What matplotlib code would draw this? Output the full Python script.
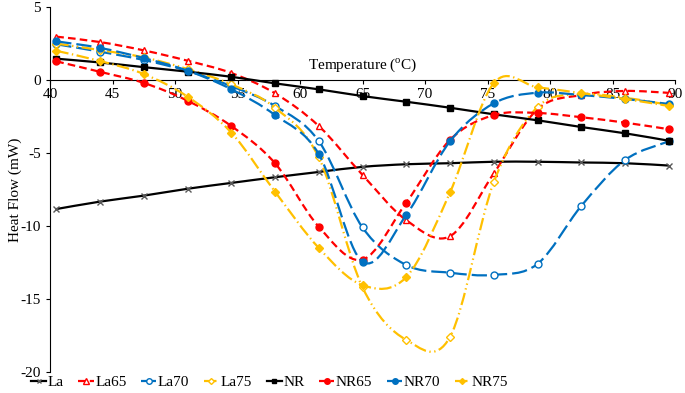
import matplotlib
matplotlib.use("Agg")
import matplotlib.pyplot as plt
from matplotlib.path import Path
from matplotlib.patches import PathPatch
from matplotlib.lines import Line2D

# === Общие настройки шрифтов ===
plt.rcParams['font.family'] = ['Liberation Serif', 'DejaVu Serif']
plt.rcParams['mathtext.fontset'] = 'custom'
plt.rcParams['mathtext.rm'] = 'Liberation Serif'
plt.rcParams['lines.scale_dashes'] = False

# === Данные ===
temp = [40.5, 44, 47.5, 51, 54.5, 58, 61.5, 65, 68.5, 72, 75.5, 79, 82.5, 86, 89.5]

la   = [-8.84, -8.33, -7.92, -7.45, -7.05, -6.66, -6.3, -5.95, -5.77, -5.7, -5.6, -5.6, -5.65, -5.7, -5.86]
la65 = [2.97, 2.6, 2.03, 1.32, 0.48, -0.91, -3.15, -6.5, -9.6, -10.7, -6.4, -2.0, -1.03, -0.75, -0.88]
la70 = [2.45, 1.94, 1.37, 0.62, -0.42, -1.78, -4.18, -10.1, -12.67, -13.2, -13.35, -12.6, -8.63, -5.48, -4.2]
la75 = [2.5, 2.05, 1.55, 0.75, -0.3, -1.9, -5.3, -14.2, -17.8, -17.6, -7.0, -1.85, -0.98, -1.22, -1.7]
nr   = [1.46, 1.2, 0.88, 0.57, 0.22, -0.23, -0.64, -1.1, -1.49, -1.9, -2.35, -2.76, -3.22, -3.65, -4.16]
nr65 = [1.28, 0.56, -0.2, -1.42, -3.15, -5.7, -10.05, -12.3, -8.4, -4.1, -2.4, -2.26, -2.55, -2.92, -3.37]
nr70 = [2.65, 2.2, 1.5, 0.64, -0.63, -2.4, -5.07, -12.45, -9.25, -4.2, -1.6, -0.87, -1.03, -1.3, -1.64]
nr75 = [2.0, 1.3, 0.41, -1.14, -3.6, -7.65, -11.5, -14.05, -13.5, -7.7, -0.22, -0.5, -0.9, -1.3, -1.78]

labels = ['La', 'La65', 'La70', 'La75', 'NR', 'NR65', 'NR70', 'NR75']
series = [la, la65, la70, la75, nr, nr65, nr70, nr75]

x_ticks = [40, 45, 50, 55, 60, 65, 70, 75, 80, 85, 90]
y_ticks = [5, 0, -5, -10, -15, -20]
y_tick_labels = ['5', '0', '-5', '-10', '-15', '-20']

# === Стили линий ===
RED, BLUE, GOLD = '#FF0000', '#0070C0', '#FFC000'
dash_red = (0, (5.5, 3))
dash_blue = (0, (11, 3.6))
dash_dd = (0, (9, 2.5, 1, 2.5, 1, 2.5))   # длинный штрих - точка - точка
dash_d = (0, (9, 2.5, 1, 2.5))            # длинный штрих - точка

styles = [
    dict(color='black', ls='-',        marker='x', mfc='none',  mec='#595959', ms=4.5),
    dict(color=RED,     ls=dash_red,   marker='^', mfc='white', mec=RED,       ms=5),
    dict(color=BLUE,    ls=dash_blue,  marker='o', mfc='white', mec=BLUE,      ms=5),
    dict(color=GOLD,    ls=dash_dd,    marker='D', mfc='white', mec=GOLD,      ms=4),
    dict(color='black', ls='-',        marker='s', mfc='black', mec='black',   ms=4.5),
    dict(color=RED,     ls=dash_red,   marker='o', mfc=RED,     mec=RED,       ms=5),
    dict(color=BLUE,    ls=dash_blue,  marker='o', mfc=BLUE,    mec=BLUE,      ms=5),
    dict(color=GOLD,    ls=dash_d,     marker='D', mfc=GOLD,    mec=GOLD,      ms=4),
]


def smooth_path(xs, ys):
    # сглаженная линия как в Excel: кривые Безье через точки данных
    pts = list(zip(xs, ys))
    n = len(pts)
    verts, codes = [pts[0]], [Path.MOVETO]
    for i in range(n - 1):
        p0 = pts[i - 1] if i > 0 else pts[i]
        p1, p2 = pts[i], pts[i + 1]
        p3 = pts[i + 2] if i + 2 < n else pts[i + 1]
        c1 = (p1[0] + (p2[0] - p0[0]) / 6, p1[1] + (p2[1] - p0[1]) / 6)
        c2 = (p2[0] - (p3[0] - p1[0]) / 6, p2[1] - (p3[1] - p1[1]) / 6)
        verts += [c1, c2, p2]
        codes += [Path.CURVE4] * 3
    return Path(verts, codes)


# === График ===
fig = plt.figure(figsize=(6.85, 3.93), dpi=100)
ax = fig.add_axes([50 / 685, 1 - 372 / 393, 625 / 685, 365 / 393])

lw = 1.6
handles = []
for z, (name, ys, st) in enumerate(zip(labels, series, styles)):
    patch = PathPatch(smooth_path(temp, ys), fill=False, edgecolor=st['color'],
                      linestyle=st['ls'], linewidth=lw, capstyle='butt', zorder=2 + z)
    ax.add_patch(patch)
    ax.plot(temp, ys, ls='none', marker=st['marker'], ms=st['ms'],
            mfc=st['mfc'], mec=st['mec'], mew=1.0, zorder=2.5 + z)
    handles.append(Line2D([], [], color=st['color'], ls=st['ls'], lw=lw,
                          marker=st['marker'], ms=st['ms'] - 1, mfc=st['mfc'],
                          mec=st['mec'], mew=1.0))

ax.set_xlim(40, 90)
ax.set_ylim(-20, 5)

# оси: горизонтальная проходит через y = 0
ax.spines['top'].set_visible(False)
ax.spines['right'].set_visible(False)
ax.spines['bottom'].set_position(('data', 0))
ax.spines['bottom'].set_zorder(1)

ax.set_xticks(x_ticks)
ax.set_yticks(y_ticks)
ax.set_yticklabels(y_tick_labels)
ax.tick_params(axis='both', direction='out', length=3, width=0.8, labelsize=11)
ax.tick_params(axis='x', pad=2.5)
ax.tick_params(axis='y', pad=3.5)

ax.set_xlabel('Temperature ($^{\\mathrm{o}}$C)', fontsize=11)
ax.xaxis.set_label_coords(0.5, (372 - 56) / 365)
ax.set_ylabel('Heat Flow (mW)', fontsize=11)
ax.yaxis.set_label_coords(-0.045, 0.5)

fig.legend(handles, labels, loc='center left', bbox_to_anchor=(31 / 685, 1 - 382 / 393),
           ncol=8, frameon=False, fontsize=11, handlelength=1.0, handletextpad=0.1,
           columnspacing=0.95, borderpad=0, borderaxespad=0)

fig.savefig('out.png', dpi=100)
